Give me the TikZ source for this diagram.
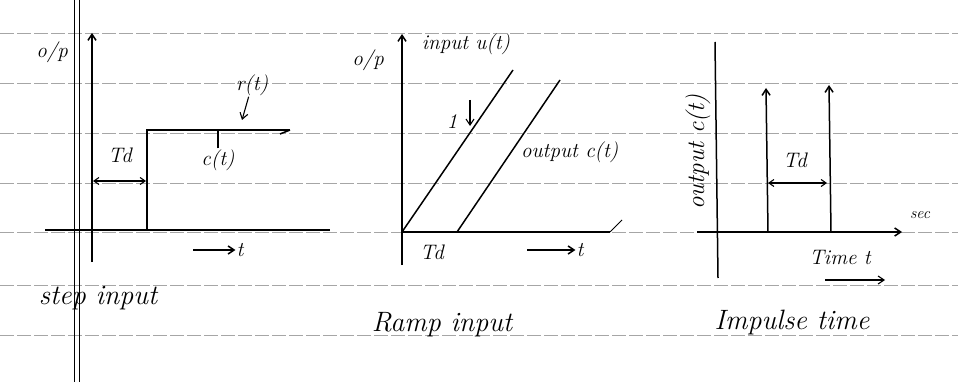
\documentclass[tikz,border=0pt]{standalone}
\usepackage{fontspec}
\usetikzlibrary{arrows.meta}
\begin{document}
\begin{tikzpicture}[x=1pt,y=-1pt,
  ink/.style={line width=1.5pt,black},
  rule/.style={gray!70,line width=0.8pt,dash pattern=on 14pt off 3pt},
  margin/.style={black,line width=1pt},
  lbl/.style={inner sep=1pt,font=\fontsize{21}{21}\selectfont\itshape},
  big/.style={inner sep=1pt,font=\fontsize{28}{28}\selectfont\itshape},
  ar/.style={ink,-{Straight Barb[length=6pt,width=8pt]}},
  dar/.style={line width=1.1pt,{Straight Barb[length=5pt,width=7pt]}-{Straight Barb[length=5pt,width=7pt]}}]
\useasboundingbox (0,0) rectangle (958,382);
\fill[white] (0,0) rectangle (958,382);
% ruled lines
\foreach \yy in {33,83,133,183,232,285,335}
  \draw[rule] (0,\yy) -- (958,\yy);
% margin
\draw[margin] (74,0) -- (74,382);
\draw[margin] (79,0) -- (79,382);

% ---------------- step input ----------------
\coordinate (s-yb) at (92,262);
\coordinate (s-yt) at (92,33);
\coordinate (s-xl) at (45,230);
\coordinate (s-xr) at (330,230);
\coordinate (s-st) at (147,230);
\coordinate (s-sc) at (147,130);
\coordinate (s-se) at (290,130);
\draw[ar] (s-yb) -- (s-yt);
\draw[ink] (s-xl) -- (s-xr);
\draw[ink] (s-st) -- (s-sc) -- (s-se);
\draw[ink] (s-se) -- ++(-10,4);
\coordinate (s-ta) at (93,181);
\coordinate (s-tb) at (146,181);
\draw[dar] (s-ta) -- (s-tb);
\node[lbl] (s-op) at (52,52) {o/p};
\node[lbl] (s-td) at (120,155) {Td};
\node[lbl] (s-ct) at (218,160) {c(t)};
\node[lbl] (s-rt) at (252,85) {r(t)};
\coordinate (s-ra) at (242,120);
\draw[ar,line width=1.1pt] (s-rt) -- (s-ra);
\draw[line width=1.1pt] (s-ct.north) -- (218,131);
\node[lbl] (s-t) at (240,250) {t};
\coordinate (s-ta2) at (193,250);
\draw[ar] (s-ta2) -- (s-t.west);
\node[big] (s-cap) at (98,298) {step input};

% ---------------- ramp input ----------------
\coordinate (r-yb) at (402,265);
\coordinate (r-yt) at (402,34);
\coordinate (r-o) at (402,232);
\coordinate (r-xr) at (610,232);
\coordinate (r-tick) at (622,220);
\coordinate (r-ie) at (513,70);
\coordinate (r-os) at (457,232);
\coordinate (r-oe) at (560,80);
\draw[ar] (r-yb) -- (r-yt);
\draw[ink] (r-o) -- (r-xr);
\draw[line width=0.8pt] (r-xr) -- (r-tick);
\draw[ink] (r-o) -- (r-ie);
\draw[ink] (r-os) -- (r-oe);
\node[lbl] (r-op) at (368,60) {o/p};
\node[lbl] (r-in) at (466,44) {input u(t)};
\node[lbl] (r-one) at (452,122) {1};
\coordinate (r-da) at (470,100);
\coordinate (r-db) at (470,126);
\draw[ar,line width=1.1pt] (r-da) -- (r-db);
\node[lbl,anchor=west] (r-out) at (520,152) {output c(t)};
\node[lbl] (r-td) at (432,252) {Td};
\node[lbl] (r-t) at (580,250) {t};
\coordinate (r-ta) at (527,250);
\draw[ar] (r-ta) -- (r-t.west);
\node[big] (r-cap) at (442,325) {Ramp input};

% ---------------- impulse ----------------
\coordinate (i-yt) at (715,42);
\coordinate (i-yb) at (718,278);
\coordinate (i-xl) at (697,232);
\coordinate (i-xr) at (902,232);
\coordinate (i-a) at (768,232);
\coordinate (i-at) at (766,88);
\coordinate (i-b) at (831,232);
\coordinate (i-bt) at (829,85);
\draw[ink] (i-yt) -- (i-yb);
\draw[ar] (i-xl) -- (i-xr);
\draw[ar] (i-a) -- (i-at);
\draw[ar] (i-b) -- (i-bt);
\coordinate (i-ta) at (768,183);
\coordinate (i-tb) at (827,183);
\draw[dar] (i-ta) -- (i-tb);
\node[lbl] (i-td) at (795,160) {Td};
\node[lbl,rotate=90,font=\fontsize{25}{25}\selectfont\itshape] (i-out) at (698,152) {output c(t)};
\node[lbl] (i-time) at (840,257) {Time t};
\coordinate (i-ua) at (825,280);
\coordinate (i-ub) at (885,280);
\draw[ar,line width=1.1pt] (i-ua) -- (i-ub);
\node[inner sep=0pt,font=\fontsize{16}{16}\selectfont\itshape] (i-sec) at (920,215) {sec};
\node[big] (i-cap) at (792,322) {Impulse time};
\end{tikzpicture}
\end{document}
